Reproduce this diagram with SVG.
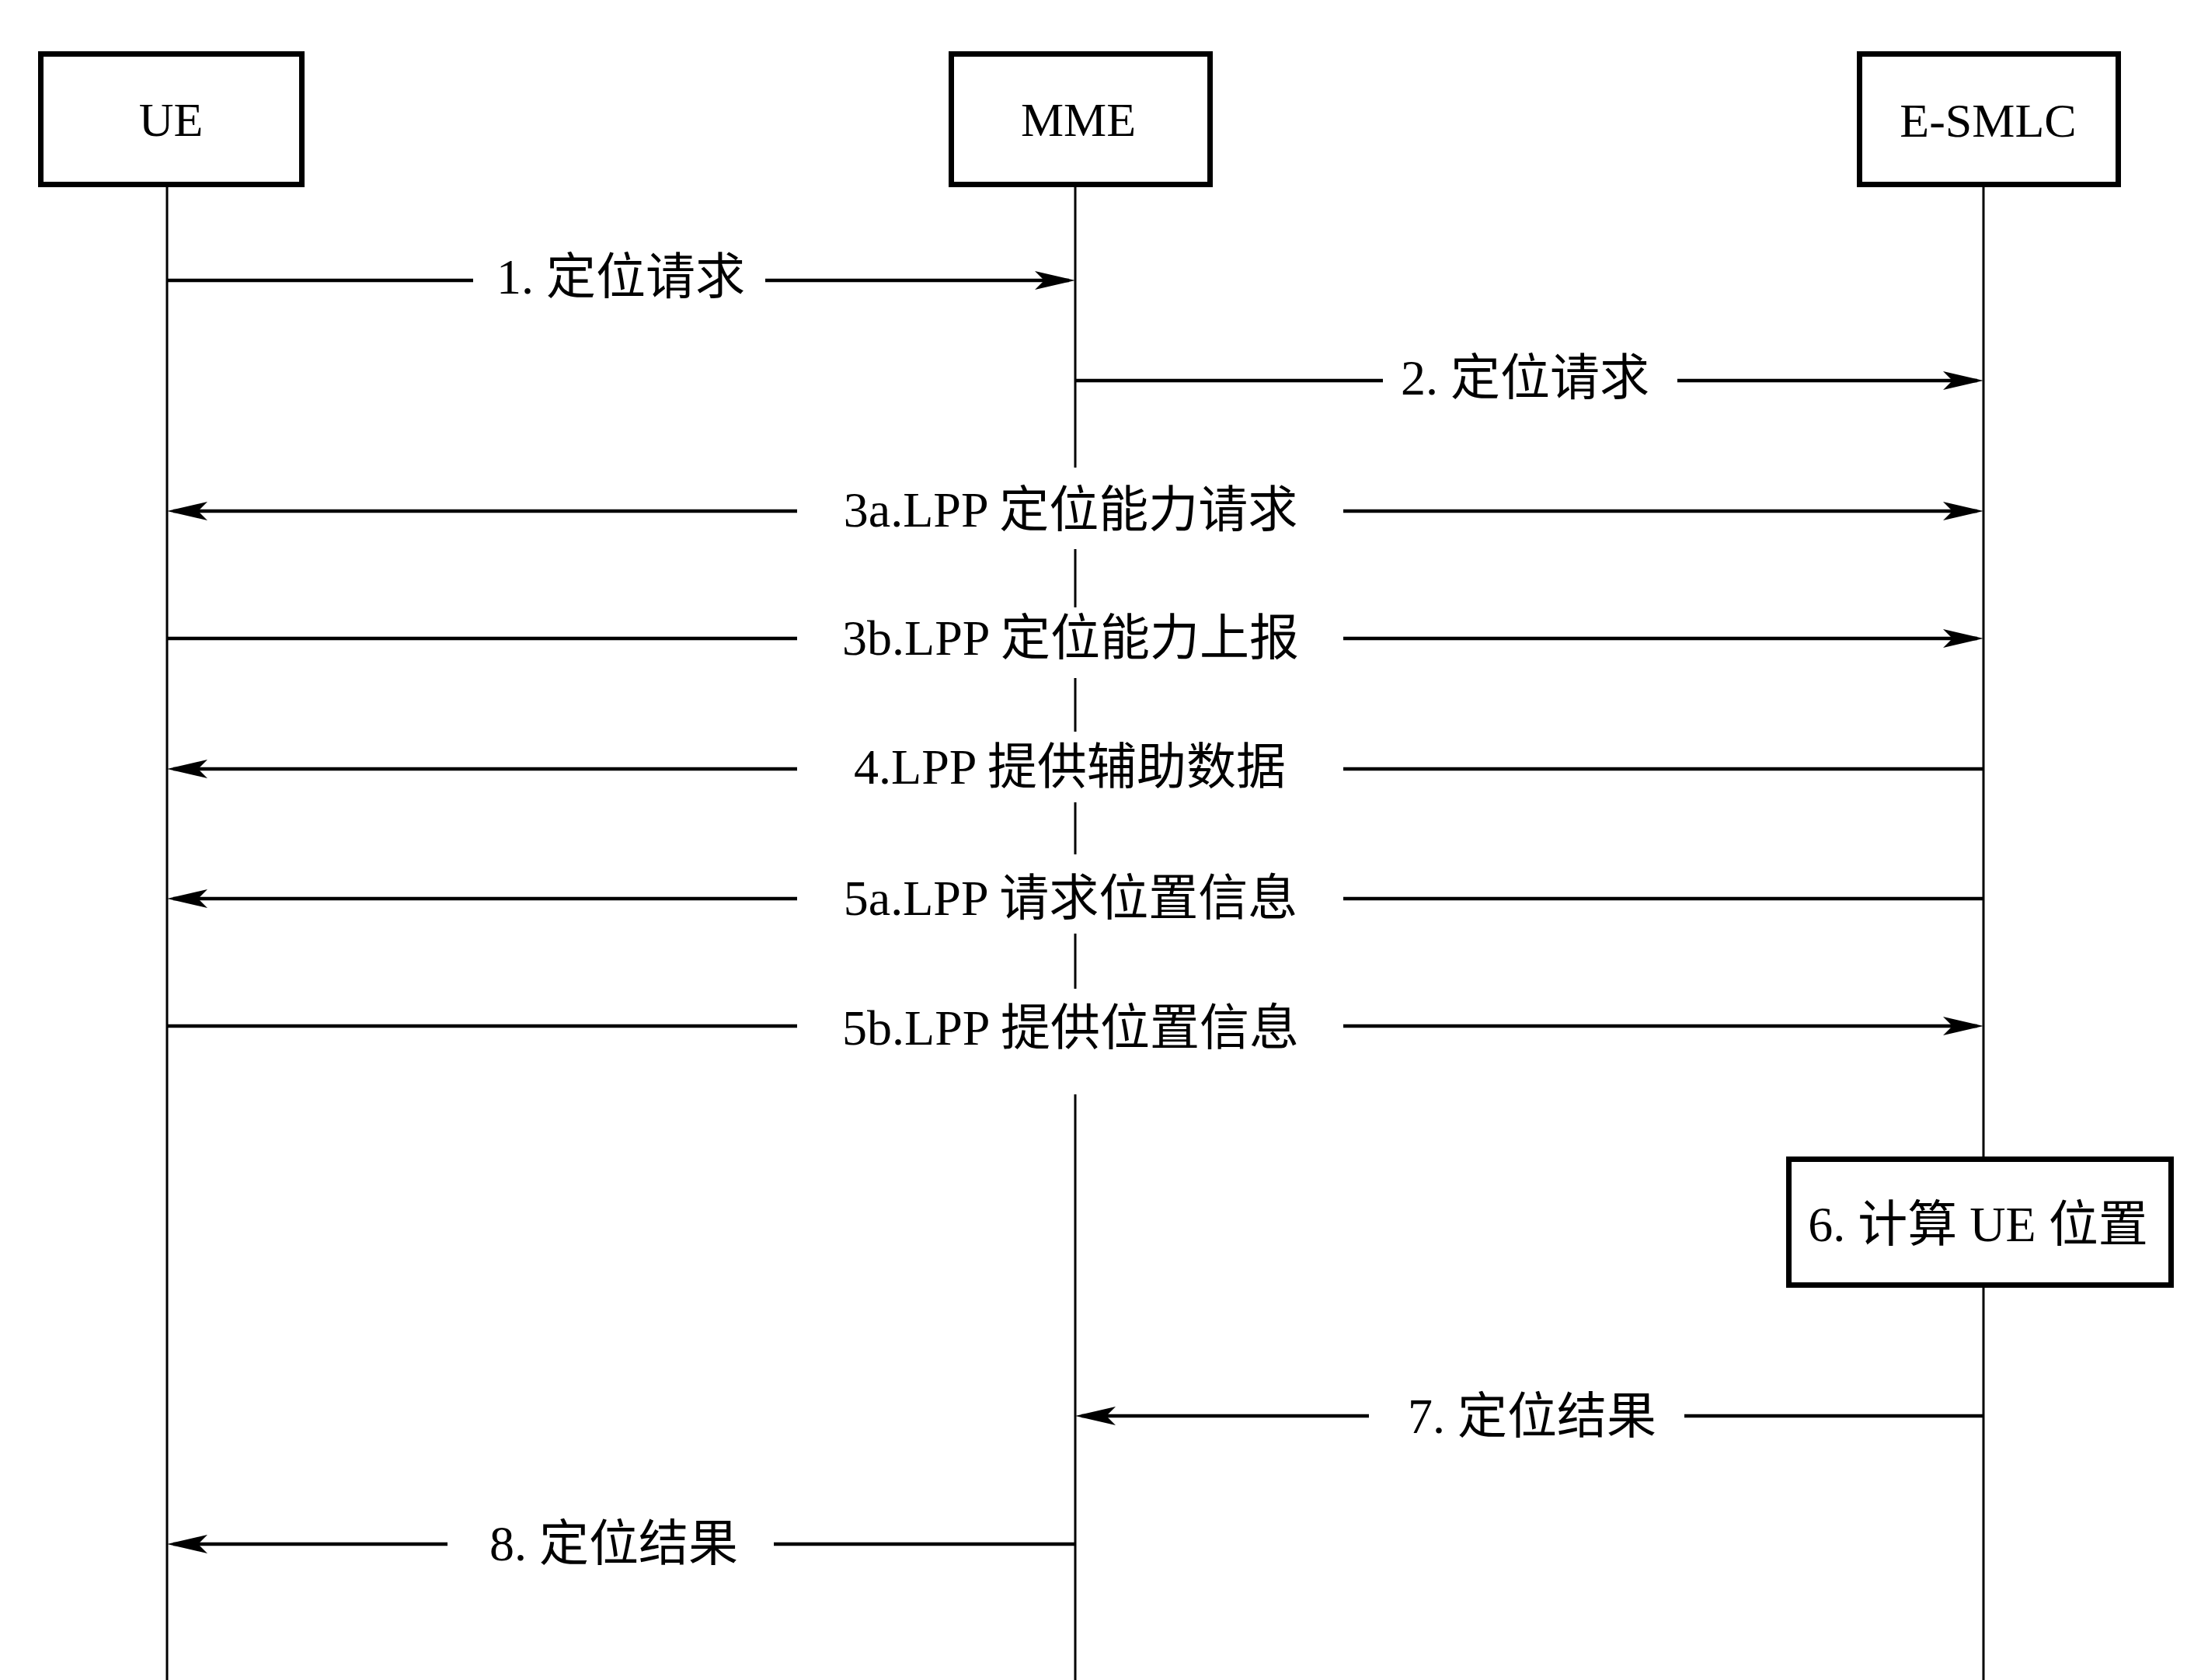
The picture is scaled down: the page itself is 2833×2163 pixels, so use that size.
<svg xmlns="http://www.w3.org/2000/svg" width="2833" height="2163" viewBox="0 0 2833 2163">
<style>
.box{fill:#fff;stroke:#000;stroke-width:7}
.life{stroke:#000;stroke-width:3;fill:none}
.msg{stroke:#000;stroke-width:4.5;fill:none}
.lbl{font-family:"Liberation Serif","Noto Sans CJK SC",serif;font-size:64px;fill:#000;text-anchor:middle}
.nm{font-family:"Liberation Serif","Noto Sans CJK SC",serif;font-size:62px;fill:#000;text-anchor:middle}
.bg{fill:#fff;stroke:none}
</style>
<defs>
<marker id="ah" viewBox="0 0 52 24" refX="44" refY="12" markerWidth="52" markerHeight="24" markerUnits="userSpaceOnUse" orient="auto-start-reverse">
<path d="M0,0 L52,12 L0,24 L12,12 z" fill="#000"/>
</marker>
</defs>
<rect width="2833" height="2163" fill="#fff"/>
<g id="lifelines">
<line class="life" x1="215" y1="241" x2="215" y2="2163"/>
<line class="life" x1="1384" y1="241" x2="1384" y2="2163"/>
<line class="life" x1="2553" y1="241" x2="2553" y2="2163"/>
</g>
<g id="node-ue">
<rect class="box" x="52.5" y="69.5" width="336" height="168"/>
<text class="nm" x="220" y="175">UE</text>
</g>
<g id="node-mme">
<rect class="box" x="1224.5" y="69.5" width="333" height="168"/>
<text class="nm" x="1388" y="175">MME</text>
</g>
<g id="node-esmlc">
<rect class="box" x="2393.5" y="69.5" width="333" height="168"/>
<text class="nm" x="2559" y="176">E-SMLC</text>
</g>
<g id="node-step6">
<rect class="box" x="2302.5" y="1492.5" width="492" height="162"/>
<text class="lbl" x="2546" y="1598">6. 计算 UE 位置</text>
</g>
<g id="connectors">
<line class="msg" x1="215" y1="361" x2="609" y2="361"/>
<line class="msg" x1="985" y1="361" x2="1376" y2="361" marker-end="url(#ah)"/>
<text class="lbl" x="799" y="378">1. 定位请求</text>
<line class="msg" x1="1384" y1="490" x2="1780" y2="490"/>
<line class="msg" x1="2159" y1="490" x2="2545" y2="490" marker-end="url(#ah)"/>
<text class="lbl" x="1963" y="508">2. 定位请求</text>
<rect class="bg" x="1026" y="602" width="703" height="105"/>
<line class="msg" x1="1026" y1="658" x2="223" y2="658" marker-end="url(#ah)"/>
<line class="msg" x1="1729" y1="658" x2="2545" y2="658" marker-end="url(#ah)"/>
<text class="lbl" x="1378" y="678">3a.LPP 定位能力请求</text>
<rect class="bg" x="1026" y="782" width="703" height="91"/>
<line class="msg" x1="215" y1="822" x2="1026" y2="822"/>
<line class="msg" x1="1729" y1="822" x2="2545" y2="822" marker-end="url(#ah)"/>
<text class="lbl" x="1378" y="843">3b.LPP 定位能力上报</text>
<rect class="bg" x="1026" y="942" width="703" height="91"/>
<line class="msg" x1="1026" y1="990" x2="223" y2="990" marker-end="url(#ah)"/>
<line class="msg" x1="1729" y1="990" x2="2553" y2="990"/>
<text class="lbl" x="1377" y="1009">4.LPP 提供辅助数据</text>
<rect class="bg" x="1026" y="1100" width="703" height="102"/>
<line class="msg" x1="1026" y1="1157" x2="223" y2="1157" marker-end="url(#ah)"/>
<line class="msg" x1="1729" y1="1157" x2="2553" y2="1157"/>
<text class="lbl" x="1378" y="1178">5a.LPP 请求位置信息</text>
<rect class="bg" x="1026" y="1273" width="703" height="136"/>
<line class="msg" x1="215" y1="1321" x2="1026" y2="1321"/>
<line class="msg" x1="1729" y1="1321" x2="2545" y2="1321" marker-end="url(#ah)"/>
<text class="lbl" x="1378" y="1345">5b.LPP 提供位置信息</text>
<line class="msg" x1="1762" y1="1823" x2="1392" y2="1823" marker-end="url(#ah)"/>
<line class="msg" x1="2168" y1="1823" x2="2553" y2="1823"/>
<text class="lbl" x="1972" y="1845">7. 定位结果</text>
<line class="msg" x1="576" y1="1988" x2="223" y2="1988" marker-end="url(#ah)"/>
<line class="msg" x1="996" y1="1988" x2="1384" y2="1988"/>
<text class="lbl" x="790" y="2009">8. 定位结果</text>
</g>
</svg>
